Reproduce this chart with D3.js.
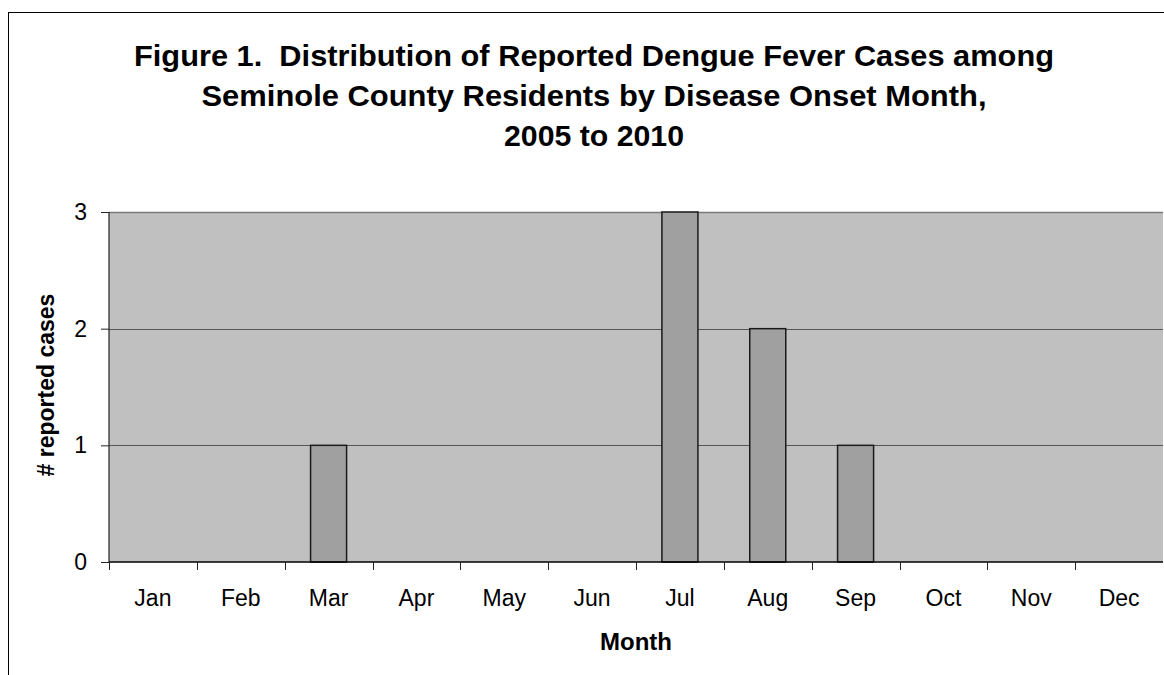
<!DOCTYPE html>
<html>
<head>
<meta charset="utf-8">
<script src="https://cdn.jsdelivr.net/npm/d3@7"></script>
<style>
  html, body { margin: 0; padding: 0; background: #fff; }
  svg { display: block; font-family: "Liberation Sans", Arial, sans-serif; }
</style>
</head>
<body>
<svg id="chart" width="1164" height="675"></svg>
<script>
const months = ["Jan","Feb","Mar","Apr","May","Jun","Jul","Aug","Sep","Oct","Nov","Dec"];
const cases = [0, 0, 1, 0, 0, 0, 3, 2, 1, 0, 0, 0];
const yTicks = [0, 1, 2, 3];
const titleLines = [
  "Figure 1.  Distribution of Reported Dengue Fever Cases among",
  "Seminole County Residents by Disease Onset Month,",
  "2005 to 2010"
];
const xLabel = "Month";
const yLabel = "# reported cases";

const svg = d3.select("#chart");
const margin = { left: 109, top: 212, right: 1163, bottom: 562 };

// outer chart border (extends beyond the picture at right and bottom)
svg.append("rect")
  .attr("x", 8.5).attr("y", 12.5)
  .attr("width", 1200).attr("height", 700)
  .attr("fill", "#fff").attr("stroke", "#000").attr("stroke-width", 1);

const x = d3.scaleBand().domain(months).range([margin.left, margin.right]).paddingInner(0).paddingOuter(0);
const y = d3.scaleLinear().domain([0, 3]).range([margin.bottom, margin.top]);

// plot area
svg.append("rect")
  .attr("x", margin.left).attr("y", margin.top)
  .attr("width", margin.right - margin.left).attr("height", margin.bottom - margin.top)
  .attr("fill", "#c0c0c0");

// gridlines
svg.append("g").selectAll("line").data(yTicks.filter(d => d > 0)).join("line")
  .attr("x1", margin.left).attr("x2", margin.right)
  .attr("y1", d => Math.round(y(d)) + 0.5).attr("y2", d => Math.round(y(d)) + 0.5)
  .attr("stroke", d => d === 3 ? "#7a7a7a" : "#555").attr("stroke-width", d => d === 3 ? 1.5 : 1);

// bars
const bw = x.bandwidth() * 0.41;
svg.append("g").selectAll("rect").data(months.map((m, i) => ({ m, v: cases[i] })).filter(d => d.v > 0)).join("rect")
  .attr("x", d => x(d.m) + (x.bandwidth() - bw) / 2)
  .attr("y", d => y(d.v))
  .attr("width", bw)
  .attr("height", d => y(0) - y(d.v))
  .attr("fill", "#a0a0a0").attr("stroke", "#1a1a1a").attr("stroke-width", 1.5);

// y axis
const yAxis = d3.axisLeft(y).tickValues(yTicks).tickSize(8).tickPadding(14).tickFormat(d3.format("d"));
const gy = svg.append("g").attr("transform", `translate(${margin.left},0)`).call(yAxis);
gy.select(".domain").attr("stroke", "#222").attr("stroke-width", 1.2).attr("d", `M0,${margin.top}V${margin.bottom}`);
gy.selectAll(".tick line").attr("stroke", "#222");
gy.selectAll(".tick text").attr("font-size", 23).attr("fill", "#000")
  .attr("font-family", "Liberation Sans, Arial, sans-serif");

// x axis
const xAxis = d3.axisBottom(x).tickSize(0).tickPadding(28);
const gx = svg.append("g").attr("transform", `translate(0,${margin.bottom})`).call(xAxis);
gx.select(".domain").attr("stroke", "#000").attr("stroke-width", 1.5).attr("d", `M${margin.left},0H${margin.right}`);
gx.selectAll(".tick text").attr("font-size", 23).attr("fill", "#000")
  .attr("font-family", "Liberation Sans, Arial, sans-serif");
// boundary tick marks between categories
gx.append("g").selectAll("line").data(months).join("line")
  .attr("x1", d => Math.round(x(d)) + 0.5).attr("x2", d => Math.round(x(d)) + 0.5)
  .attr("y1", 0).attr("y2", 8)
  .attr("stroke", "#222");

// title
const titleWidths = [920, 785, 180];
const titleBase = [66, 106, 146];
svg.append("g").selectAll("text").data(titleLines).join("text")
  .attr("x", 594).attr("y", (d, i) => titleBase[i])
  .attr("text-anchor", "middle")
  .attr("font-size", 30).attr("font-weight", "bold").attr("fill", "#000")
  .style("white-space", "pre")
  .attr("textLength", (d, i) => titleWidths[i])
  .attr("lengthAdjust", "spacingAndGlyphs")
  .text(d => d);

// axis titles
svg.append("text").attr("x", 636).attr("y", 650).attr("text-anchor", "middle")
  .attr("font-size", 24).attr("font-weight", "bold").text(xLabel);
svg.append("text").attr("transform", "translate(54,385) rotate(-90)").attr("text-anchor", "middle")
  .attr("font-size", 23).attr("font-weight", "bold").text(yLabel);
</script>
</body>
</html>
